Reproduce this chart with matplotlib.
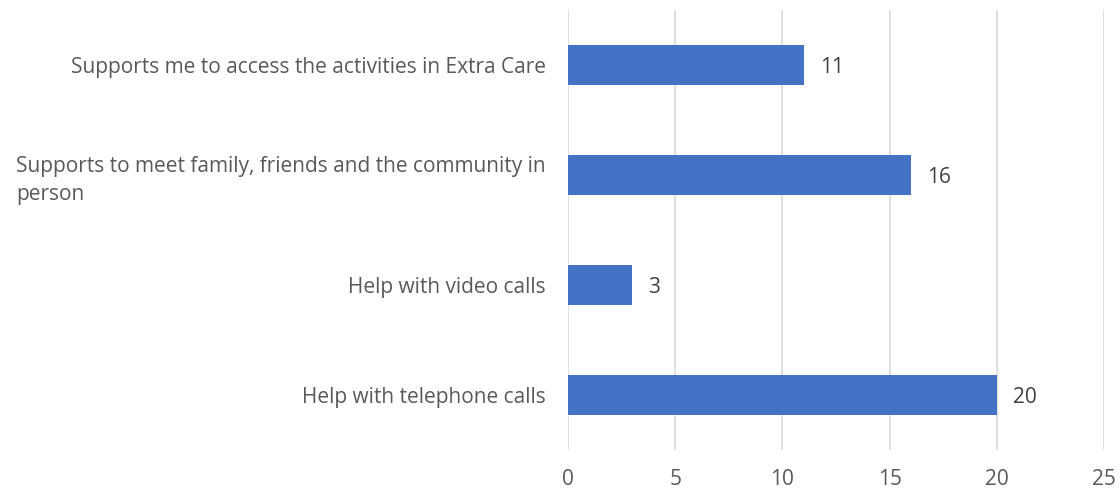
import matplotlib.pyplot as plt

plt.rcParams['font.family'] = ['Open Sans', 'DejaVu Sans']

categories = ['Help with telephone calls',
              'Help with video calls',
              'Supports to meet family, friends and the community in\nperson',
              'Supports me to access the activities in Extra Care']
counts = [20, 3, 16, 11]
ticks = [0, 5, 10, 15, 20, 25]

txt = '#595959'
fig = plt.figure(figsize=(11.2, 4.96), dpi=100)
ax = fig.add_axes([0.507, 0.093, 0.479, 0.887])

pos = range(len(categories))
ax.barh(pos, counts, height=0.36, color='#4472C4', zorder=2)
for p, v in zip(pos, counts):
    ax.text(v + 0.75, p, str(v), va='center_baseline', ha='left', fontsize=15, color='#404040')

ax.set_xlim(0, 25)
ax.set_ylim(-0.5, 3.5)
ax.set_xticks(ticks)
ax.set_yticks(list(pos))
ax.set_yticklabels(categories, fontsize=15, color=txt, multialignment='left',
                   linespacing=1.4)
ax.tick_params(axis='x', labelsize=15, colors=txt, length=0, pad=14)
ax.tick_params(axis='y', length=0, pad=16)
ax.grid(axis='x', color='#D9D9D9', linewidth=1.2, zorder=0)
for s in ax.spines.values():
    s.set_visible(False)

fig.savefig('out.png')
